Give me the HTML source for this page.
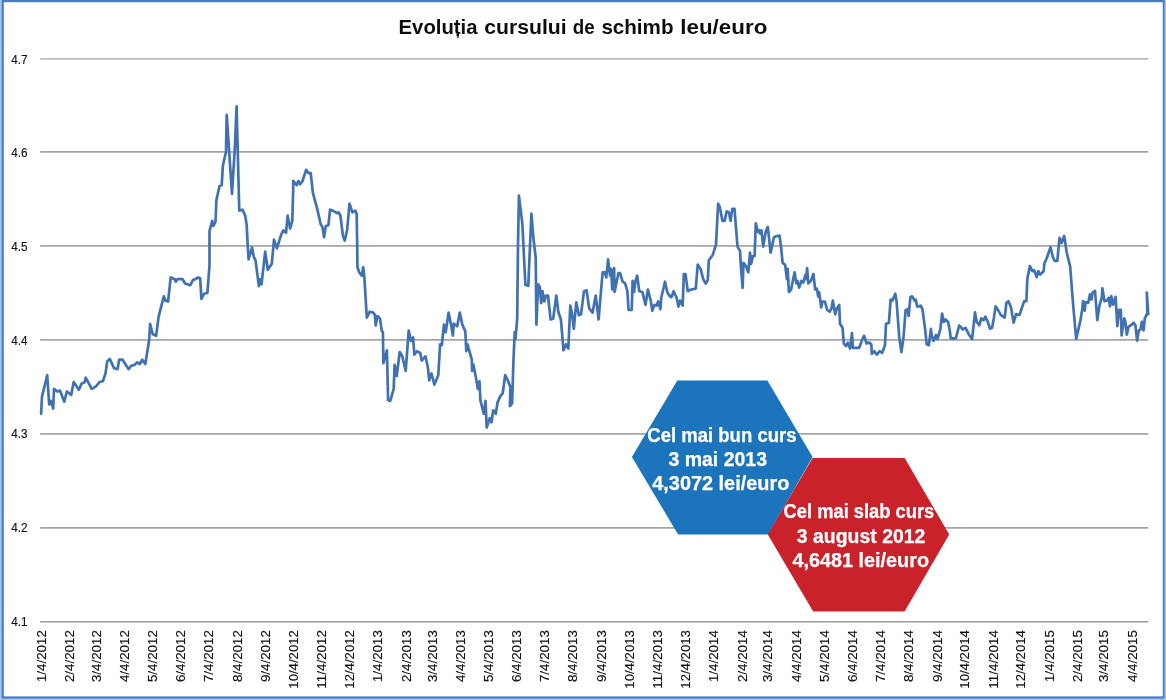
<!DOCTYPE html>
<html lang="ro"><head><meta charset="utf-8"><title>Evoluția cursului de schimb leu/euro</title>
<style>
html,body{margin:0;padding:0;background:#fff;}
body{width:1166px;height:700px;overflow:hidden;font-family:"Liberation Sans",sans-serif;}
svg{display:block;}
text{font-family:"Liberation Sans",sans-serif;}
.ax{font-size:12px;fill:#111;stroke:#111;stroke-width:0.15px;}
.xl{font-size:12.2px;}
.ttl{font-size:20.6px;font-weight:bold;fill:#111;}
.hx{font-size:20px;font-weight:bold;fill:#fff;stroke:#fff;stroke-width:0.25px;}
</style></head><body>
<svg width="1166" height="700" viewBox="0 0 1166 700">
<rect x="0" y="0" width="1166" height="700" fill="#ffffff"/>
<rect x="0" y="0" width="1166" height="700" fill="#a9c7f5"/>
<rect x="1.6" y="0" width="1163" height="698.6" fill="#4a7ebb"/>
<rect x="3.9" y="2.5" width="1158.6" height="693.7" fill="#ffffff"/>
<defs><filter id="soft" x="0" y="0" width="100%" height="100%" filterUnits="userSpaceOnUse"><feGaussianBlur stdDeviation="0.38"/></filter></defs>
<g filter="url(#soft)">
<rect x="3.9" y="2.5" width="1158.6" height="693.7" fill="#ffffff"/>
<line x1="40.1" y1="58.9" x2="1148.4" y2="58.9" stroke="#bcbcbc" stroke-width="1.8"/>
<text class="ax" x="11.2" y="63.5" textLength="16.3" lengthAdjust="spacingAndGlyphs">4.7</text>
<line x1="40.1" y1="151.9" x2="1148.4" y2="151.9" stroke="#a6a6a6" stroke-width="1.7"/>
<text class="ax" x="11.2" y="156.5" textLength="16.3" lengthAdjust="spacingAndGlyphs">4.6</text>
<line x1="40.1" y1="245.9" x2="1148.4" y2="245.9" stroke="#a6a6a6" stroke-width="1.7"/>
<text class="ax" x="11.2" y="250.5" textLength="16.3" lengthAdjust="spacingAndGlyphs">4.5</text>
<line x1="40.1" y1="339.9" x2="1148.4" y2="339.9" stroke="#a6a6a6" stroke-width="1.7"/>
<text class="ax" x="11.2" y="344.5" textLength="16.3" lengthAdjust="spacingAndGlyphs">4.4</text>
<line x1="40.1" y1="433.8" x2="1148.4" y2="433.8" stroke="#a6a6a6" stroke-width="1.7"/>
<text class="ax" x="11.2" y="438.4" textLength="16.3" lengthAdjust="spacingAndGlyphs">4.3</text>
<line x1="40.1" y1="527.8" x2="1148.4" y2="527.8" stroke="#a6a6a6" stroke-width="1.7"/>
<text class="ax" x="11.2" y="532.4" textLength="16.3" lengthAdjust="spacingAndGlyphs">4.2</text>
<line x1="40.1" y1="621.7" x2="1148.4" y2="621.7" stroke="#9c9c9c" stroke-width="1.5"/>
<text class="ax" x="11.2" y="626.3" textLength="16.3" lengthAdjust="spacingAndGlyphs">4.1</text>
<text class="ttl" y="33.8"><tspan x="398.6" textLength="78.9" lengthAdjust="spacingAndGlyphs">Evoluția</tspan> <tspan x="484.3" textLength="82.4" lengthAdjust="spacingAndGlyphs">cursului</tspan> <tspan x="572.7" textLength="21.9" lengthAdjust="spacingAndGlyphs">de</tspan> <tspan x="601.4" textLength="72.1" lengthAdjust="spacingAndGlyphs">schimb</tspan> <tspan x="680.3" textLength="87.0" lengthAdjust="spacingAndGlyphs">leu/euro</tspan></text>
<text class="ax xl" transform="translate(45.6,630.1) rotate(-90)" text-anchor="end" textLength="52" lengthAdjust="spacingAndGlyphs">1/4/2012</text>
<text class="ax xl" transform="translate(74.1,630.1) rotate(-90)" text-anchor="end" textLength="52" lengthAdjust="spacingAndGlyphs">2/4/2012</text>
<text class="ax xl" transform="translate(100.8,630.1) rotate(-90)" text-anchor="end" textLength="52" lengthAdjust="spacingAndGlyphs">3/4/2012</text>
<text class="ax xl" transform="translate(129.3,630.1) rotate(-90)" text-anchor="end" textLength="52" lengthAdjust="spacingAndGlyphs">4/4/2012</text>
<text class="ax xl" transform="translate(156.9,630.1) rotate(-90)" text-anchor="end" textLength="52" lengthAdjust="spacingAndGlyphs">5/4/2012</text>
<text class="ax xl" transform="translate(185.4,630.1) rotate(-90)" text-anchor="end" textLength="52" lengthAdjust="spacingAndGlyphs">6/4/2012</text>
<text class="ax xl" transform="translate(213.0,630.1) rotate(-90)" text-anchor="end" textLength="52" lengthAdjust="spacingAndGlyphs">7/4/2012</text>
<text class="ax xl" transform="translate(241.6,630.1) rotate(-90)" text-anchor="end" textLength="52" lengthAdjust="spacingAndGlyphs">8/4/2012</text>
<text class="ax xl" transform="translate(270.1,630.1) rotate(-90)" text-anchor="end" textLength="52" lengthAdjust="spacingAndGlyphs">9/4/2012</text>
<text class="ax xl" transform="translate(297.7,630.1) rotate(-90)" text-anchor="end" textLength="58.6" lengthAdjust="spacingAndGlyphs">10/4/2012</text>
<text class="ax xl" transform="translate(326.2,630.1) rotate(-90)" text-anchor="end" textLength="58.6" lengthAdjust="spacingAndGlyphs">11/4/2012</text>
<text class="ax xl" transform="translate(353.8,630.1) rotate(-90)" text-anchor="end" textLength="58.6" lengthAdjust="spacingAndGlyphs">12/4/2012</text>
<text class="ax xl" transform="translate(382.3,630.1) rotate(-90)" text-anchor="end" textLength="52" lengthAdjust="spacingAndGlyphs">1/4/2013</text>
<text class="ax xl" transform="translate(410.8,630.1) rotate(-90)" text-anchor="end" textLength="52" lengthAdjust="spacingAndGlyphs">2/4/2013</text>
<text class="ax xl" transform="translate(436.6,630.1) rotate(-90)" text-anchor="end" textLength="52" lengthAdjust="spacingAndGlyphs">3/4/2013</text>
<text class="ax xl" transform="translate(465.1,630.1) rotate(-90)" text-anchor="end" textLength="52" lengthAdjust="spacingAndGlyphs">4/4/2013</text>
<text class="ax xl" transform="translate(492.7,630.1) rotate(-90)" text-anchor="end" textLength="52" lengthAdjust="spacingAndGlyphs">5/4/2013</text>
<text class="ax xl" transform="translate(521.2,630.1) rotate(-90)" text-anchor="end" textLength="52" lengthAdjust="spacingAndGlyphs">6/4/2013</text>
<text class="ax xl" transform="translate(548.8,630.1) rotate(-90)" text-anchor="end" textLength="52" lengthAdjust="spacingAndGlyphs">7/4/2013</text>
<text class="ax xl" transform="translate(577.4,630.1) rotate(-90)" text-anchor="end" textLength="52" lengthAdjust="spacingAndGlyphs">8/4/2013</text>
<text class="ax xl" transform="translate(605.9,630.1) rotate(-90)" text-anchor="end" textLength="52" lengthAdjust="spacingAndGlyphs">9/4/2013</text>
<text class="ax xl" transform="translate(633.5,630.1) rotate(-90)" text-anchor="end" textLength="58.6" lengthAdjust="spacingAndGlyphs">10/4/2013</text>
<text class="ax xl" transform="translate(662.0,630.1) rotate(-90)" text-anchor="end" textLength="58.6" lengthAdjust="spacingAndGlyphs">11/4/2013</text>
<text class="ax xl" transform="translate(689.6,630.1) rotate(-90)" text-anchor="end" textLength="58.6" lengthAdjust="spacingAndGlyphs">12/4/2013</text>
<text class="ax xl" transform="translate(718.1,630.1) rotate(-90)" text-anchor="end" textLength="52" lengthAdjust="spacingAndGlyphs">1/4/2014</text>
<text class="ax xl" transform="translate(746.6,630.1) rotate(-90)" text-anchor="end" textLength="52" lengthAdjust="spacingAndGlyphs">2/4/2014</text>
<text class="ax xl" transform="translate(772.4,630.1) rotate(-90)" text-anchor="end" textLength="52" lengthAdjust="spacingAndGlyphs">3/4/2014</text>
<text class="ax xl" transform="translate(800.9,630.1) rotate(-90)" text-anchor="end" textLength="52" lengthAdjust="spacingAndGlyphs">4/4/2014</text>
<text class="ax xl" transform="translate(828.5,630.1) rotate(-90)" text-anchor="end" textLength="52" lengthAdjust="spacingAndGlyphs">5/4/2014</text>
<text class="ax xl" transform="translate(857.0,630.1) rotate(-90)" text-anchor="end" textLength="52" lengthAdjust="spacingAndGlyphs">6/4/2014</text>
<text class="ax xl" transform="translate(884.6,630.1) rotate(-90)" text-anchor="end" textLength="52" lengthAdjust="spacingAndGlyphs">7/4/2014</text>
<text class="ax xl" transform="translate(913.2,630.1) rotate(-90)" text-anchor="end" textLength="52" lengthAdjust="spacingAndGlyphs">8/4/2014</text>
<text class="ax xl" transform="translate(941.7,630.1) rotate(-90)" text-anchor="end" textLength="52" lengthAdjust="spacingAndGlyphs">9/4/2014</text>
<text class="ax xl" transform="translate(969.3,630.1) rotate(-90)" text-anchor="end" textLength="58.6" lengthAdjust="spacingAndGlyphs">10/4/2014</text>
<text class="ax xl" transform="translate(997.8,630.1) rotate(-90)" text-anchor="end" textLength="58.6" lengthAdjust="spacingAndGlyphs">11/4/2014</text>
<text class="ax xl" transform="translate(1025.4,630.1) rotate(-90)" text-anchor="end" textLength="58.6" lengthAdjust="spacingAndGlyphs">12/4/2014</text>
<text class="ax xl" transform="translate(1053.9,630.1) rotate(-90)" text-anchor="end" textLength="52" lengthAdjust="spacingAndGlyphs">1/4/2015</text>
<text class="ax xl" transform="translate(1082.4,630.1) rotate(-90)" text-anchor="end" textLength="52" lengthAdjust="spacingAndGlyphs">2/4/2015</text>
<text class="ax xl" transform="translate(1108.2,630.1) rotate(-90)" text-anchor="end" textLength="52" lengthAdjust="spacingAndGlyphs">3/4/2015</text>
<text class="ax xl" transform="translate(1136.7,630.1) rotate(-90)" text-anchor="end" textLength="52" lengthAdjust="spacingAndGlyphs">4/4/2015</text>
<polyline fill="none" stroke="#4172b2" stroke-width="2.7" stroke-linejoin="round" stroke-linecap="round" points="41.1,413.8 42.0,396.6 47.2,375.2 49.2,404.3 50.9,400.9 53.2,408.6 54.0,388.9 57.4,391.5 60.0,390.6 64.3,401.7 66.9,391.5 71.2,394.9 73.7,382.0 78.9,389.7 81.5,383.7 84.9,382.0 85.7,377.7 91.7,388.9 96.0,386.3 99.5,382.0 102.9,381.2 105.5,373.4 107.2,361.4 109.8,358.9 114.0,368.3 117.5,369.2 119.2,359.7 122.6,359.7 128.6,369.2 131.2,365.7 134.6,364.9 137.2,362.3 139.8,364.0 142.3,359.7 145.3,364.0 149.2,340.0 150.1,323.8 152.6,334.0 156.1,335.8 158.6,316.9 163.8,296.3 165.5,300.6 168.1,301.5 170.7,277.4 174.9,279.2 175.8,281.7 177.5,279.2 180.9,279.2 182.6,279.2 185.1,283.5 190.3,285.2 192.9,280.1 195.4,279.2 198.0,277.5 200.2,278.3 201.4,298.9 204.0,293.8 207.4,292.9 209.5,265.5 209.5,231.2 212.2,220.9 213.4,226.0 215.5,221.7 216.4,200.3 219.5,186.1 221.7,185.2 222.9,165.5 226.0,151.7 226.7,114.9 232.0,193.8 234.9,146.6 236.6,106.3 239.2,208.4 239.2,210.6 242.6,209.7 245.2,215.7 246.6,224.3 247.8,246.6 248.6,259.5 252.0,247.5 253.8,256.9 255.5,260.3 258.9,286.1 260.3,279.2 261.5,284.3 265.2,251.7 267.8,269.8 271.8,263.8 274.0,239.7 276.9,248.3 281.2,234.6 283.3,230.3 286.0,232.9 287.7,215.7 290.1,228.6 292.3,220.9 293.2,190.0 293.2,180.9 296.6,185.2 298.4,180.9 300.1,184.3 302.6,180.9 306.1,169.8 308.6,173.2 310.7,173.2 312.9,192.9 317.2,208.9 320.7,224.3 322.4,226.9 324.1,237.2 325.8,226.0 328.4,225.2 330.1,209.7 332.7,210.6 336.9,213.2 338.7,212.3 340.4,215.7 343.0,236.3 344.7,240.6 347.2,229.5 349.5,203.7 352.4,212.3 355.3,210.6 356.7,214.0 357.5,267.2 359.2,272.3 361.8,275.8 363.2,267.2 364.4,277.5 366.8,317.7 369.7,311.7 373.2,312.6 374.9,315.1 375.7,325.4 377.4,316.0 380.0,318.6 381.7,330.6 382.9,332.3 383.4,363.2 386.9,350.3 388.1,400.1 390.3,400.9 393.7,388.9 394.6,364.9 396.7,376.0 399.7,352.0 402.3,356.3 405.7,370.9 408.7,330.6 410.9,340.9 413.1,337.4 414.3,354.6 416.9,351.2 420.3,352.9 421.7,360.6 425.5,356.3 428.0,368.3 429.2,380.3 431.5,373.5 434.4,384.6 438.3,375.2 440.1,344.3 441.8,345.2 444.0,324.6 445.7,332.3 448.6,312.6 451.2,325.4 452.9,335.7 453.8,323.7 457.2,326.3 459.8,312.6 462.3,324.6 465.3,331.4 466.3,351.2 467.5,344.3 471.8,359.7 472.1,370.9 473.5,364.9 476.1,378.6 477.8,388.9 479.5,381.2 480.4,400.1 483.8,413.8 485.5,400.9 486.7,427.5 489.8,418.1 491.5,422.3 493.2,410.3 495.8,413.8 497.5,402.6 500.1,396.6 502.7,393.2 505.2,375.2 507.8,380.3 510.4,387.2 509.9,406.1 512.1,403.5 513.3,364.9 514.7,332.3 515.5,339.2 517.2,318.6 518.0,245.5 518.9,195.7 522.3,223.2 525.4,284.9 528.3,285.8 531.4,213.7 533.4,237.8 535.7,257.5 536.4,324.6 538.1,284.3 539.8,286.9 541.2,303.2 542.5,291.2 544.3,301.5 546.0,295.5 548.0,295.5 550.6,319.5 553.2,318.6 556.3,295.5 558.3,311.7 560.9,319.5 563.5,350.3 566.0,344.3 568.3,348.6 570.3,305.7 572.0,313.5 573.8,328.9 576.3,302.3 578.9,315.2 581.0,314.3 584.0,291.2 586.6,290.3 589.2,308.3 592.6,312.6 595.7,295.5 598.6,319.5 602.6,272.3 604.6,272.3 606.3,277.4 608.1,259.4 610.1,275.7 611.1,268.9 612.3,289.5 614.1,268.0 614.6,292.0 618.4,273.2 620.1,273.2 622.6,281.7 625.2,283.4 627.3,291.2 628.6,310.0 631.7,310.0 632.6,280.9 634.1,292.0 635.5,280.9 637.2,275.7 639.3,291.2 642.4,292.0 645.5,304.9 647.9,289.5 650.9,301.5 652.3,310.9 654.4,304.9 656.4,305.7 658.1,301.5 660.4,309.2 661.2,298.0 665.0,281.7 667.2,292.0 669.8,296.3 671.5,297.2 673.6,291.2 676.7,298.0 678.4,306.6 680.1,300.6 682.7,305.7 683.8,274.0 685.5,274.0 687.7,291.2 691.1,289.5 695.8,288.6 697.7,264.6 700.6,268.9 703.2,279.2 705.7,283.5 707.8,280.1 708.8,260.3 712.6,255.2 716.0,244.9 718.1,203.7 719.8,207.2 722.5,220.9 724.6,220.9 726.7,211.4 728.9,212.3 730.6,220.9 732.3,208.9 734.5,208.9 737.5,246.6 740.0,250.9 740.9,266.3 742.6,287.8 743.5,262.9 746.0,266.3 748.3,272.3 750.0,252.6 751.2,263.8 752.9,256.0 754.6,256.0 755.8,223.4 758.0,232.0 758.9,230.3 760.3,233.7 761.5,230.3 763.2,246.6 765.8,231.2 767.8,226.9 770.6,252.6 774.0,237.2 776.1,236.3 779.5,235.5 781.2,248.3 782.6,262.9 785.1,264.6 786.9,279.2 787.7,268.9 788.9,292.0 791.1,289.5 794.6,272.3 796.3,283.4 797.5,280.9 799.2,287.7 801.4,280.9 803.2,282.6 805.4,274.9 806.1,279.2 807.1,268.0 808.3,283.4 810.9,280.9 813.4,274.0 815.2,289.5 816.9,288.6 818.1,296.3 819.1,292.0 821.2,307.5 822.5,301.5 824.9,301.5 827.2,310.0 829.7,311.7 831.5,308.3 832.8,300.6 835.2,314.3 836.9,308.3 839.2,304.9 840.0,323.8 842.6,328.0 843.8,343.5 846.0,346.1 847.8,342.6 850.0,348.6 852.0,333.2 852.9,347.8 856.3,347.8 859.2,347.8 862.0,340.1 864.0,335.8 866.6,343.5 869.2,342.6 871.3,344.3 871.8,353.8 874.3,351.2 876.9,354.6 879.5,351.2 882.1,352.9 885.0,345.2 886.0,323.8 888.9,322.9 890.6,299.7 892.3,300.6 895.3,293.7 896.6,301.5 899.2,336.6 901.4,352.1 903.5,337.5 905.6,310.0 907.8,309.2 908.6,316.0 910.4,297.2 912.1,296.3 914.6,300.6 915.8,299.7 917.2,306.6 920.7,305.7 922.4,309.2 924.9,327.2 926.7,344.3 928.9,345.2 930.9,328.9 931.8,335.8 933.5,340.9 936.1,334.9 937.5,339.2 940.4,328.9 942.1,313.5 943.8,322.0 945.5,319.5 948.1,322.0 949.8,330.6 950.7,338.3 955.8,338.3 959.2,325.5 963.0,329.5 965.5,327.8 969.0,334.7 972.1,339.0 973.8,323.5 975.0,312.4 976.7,321.8 979.3,325.2 981.3,318.4 983.6,320.1 985.3,316.7 987.8,321.8 989.9,328.7 992.1,327.8 993.8,318.4 995.6,306.4 999.0,311.5 1000.7,314.9 1004.7,317.5 1006.4,302.9 1008.4,301.2 1011.0,307.2 1013.6,322.7 1016.1,314.1 1019.6,314.9 1023.0,304.6 1024.2,301.2 1026.4,301.2 1027.3,278.9 1029.9,266.1 1032.4,271.2 1034.2,270.3 1036.7,277.2 1038.4,271.2 1040.2,274.6 1043.6,271.2 1044.4,263.5 1047.0,257.5 1050.5,247.2 1053.0,257.5 1054.7,260.9 1057.3,260.9 1059.5,237.8 1061.6,242.9 1064.2,236.0 1066.7,252.3 1070.2,266.9 1072.7,299.5 1073.6,309.8 1076.2,339.0 1080.5,320.1 1082.2,309.8 1083.0,301.2 1084.8,310.7 1085.6,302.1 1088.2,302.9 1089.9,294.4 1091.6,299.5 1092.5,292.6 1095.0,290.9 1097.3,320.1 1099.3,306.4 1101.9,296.9 1102.4,288.4 1104.5,301.2 1107.1,300.4 1108.8,297.8 1110.0,306.4 1111.3,296.1 1113.1,304.6 1115.6,296.9 1117.3,326.1 1119.1,309.8 1120.8,309.8 1121.6,335.5 1124.2,318.4 1125.4,321.8 1126.8,334.7 1128.5,326.9 1131.1,325.2 1133.6,322.7 1135.4,325.2 1137.1,340.7 1138.8,330.4 1140.5,329.5 1141.9,321.8 1143.6,330.4 1144.8,318.4 1147.4,313.2 1146.8,292.6 1148.2,314.1"/>
<polygon points="631.9,456.9 677.3,380.6 767.4,380.6 812.6,456.9 768.3,534.5 678.1,534.5" fill="#1b75bc"/>
<polygon points="767.8,534.5 812.6,458 904.7,458 949.2,534.5 904.6,611.5 813.2,611.5" fill="#c9202b"/>
<text class="hx" x="647.3" y="441.6" textLength="149.2" lengthAdjust="spacingAndGlyphs">Cel mai bun curs</text>
<text class="hx" x="668.4" y="466.0" textLength="98.6" lengthAdjust="spacingAndGlyphs">3 mai 2013</text>
<text class="hx" x="652.3" y="490.2" textLength="137.0" lengthAdjust="spacingAndGlyphs">4,3072 lei/euro</text>
<text class="hx" x="783.6" y="518.0" textLength="150.7" lengthAdjust="spacingAndGlyphs">Cel mai slab curs</text>
<text class="hx" x="796.8" y="543.4" textLength="128.6" lengthAdjust="spacingAndGlyphs">3 august 2012</text>
<text class="hx" x="792.5" y="567.4" textLength="136.5" lengthAdjust="spacingAndGlyphs">4,6481 lei/euro</text>
</g>
</svg>
</body></html>
